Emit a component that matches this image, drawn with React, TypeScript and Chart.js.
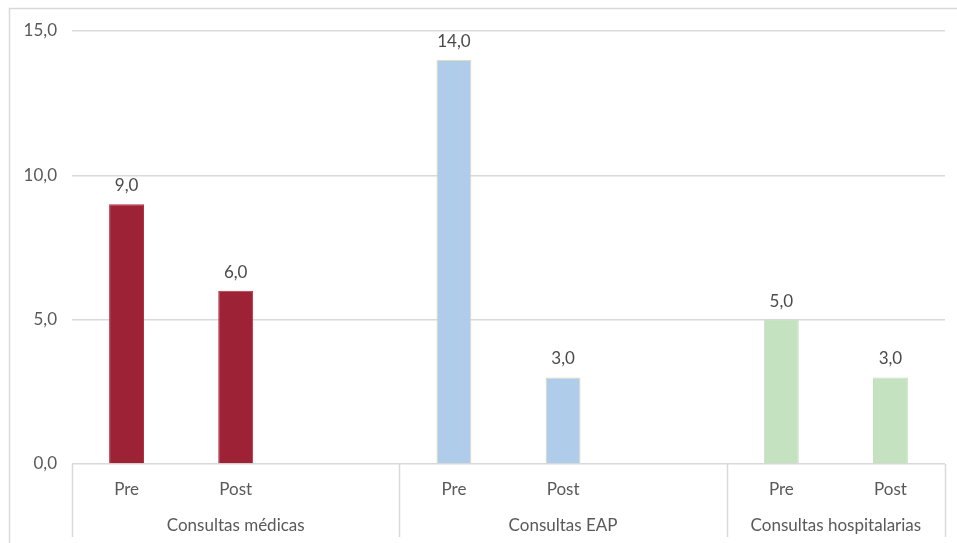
import React, { useEffect, useRef } from 'react';
import { Chart, registerables } from 'chart.js';
Chart.register(...registerables);

const periods = ['Pre', 'Post'];
const groups = ['Consultas médicas', 'Consultas EAP', 'Consultas hospitalarias'];
const medicas = [9.0, 6.0];
const eap = [14.0, 3.0];
const hospitalarias = [5.0, 3.0];
const yTicks = [0, 5, 10, 15];
const groupColors = ['#9E2236', '#AFCDEB', '#C4E1C0'];
const groupBorders = ['#B3303F', '#E6DBA6', '#C4E1C0'];

const series = [medicas, eap, hospitalarias];
const labels: string[] = [];
const values: (number | null)[] = [];
const colors: string[] = [];
const borders: string[] = [];
const groupIndex: number[] = [];
series.forEach((s, gi) => {
  s.forEach((v, pi) => {
    labels.push(periods[pi]);
    values.push(v);
    colors.push(groupColors[gi]);
    borders.push(groupBorders[gi]);
    groupIndex.push(gi);
  });
  if (gi < series.length - 1) {
    labels.push('');
    values.push(null);
    colors.push('rgba(0,0,0,0)');
    borders.push('rgba(0,0,0,0)');
    groupIndex.push(gi);
  }
});

const FONT = 'Lato, "Open Sans", sans-serif';
const SIZE = 17;
const fmt = (v: number) => v.toFixed(1).replace('.', ',');

const customPlugin = {
  id: 'customDecor',
  beforeDraw(chart: any) {
    const ctx = chart.ctx;
    ctx.save();
    ctx.strokeStyle = '#d9d9d9';
    ctx.lineWidth = 1.5;
    ctx.beginPath();
    ctx.moveTo(9.5, chart.height + 10);
    ctx.lineTo(9.5, 8.5);
    ctx.lineTo(chart.width + 10, 8.5);
    ctx.stroke();
    ctx.restore();
  },
  afterDraw(chart: any) {
    const ctx = chart.ctx;
    const xs = chart.scales.x;
    const meta = chart.getDatasetMeta(0);
    ctx.save();
    ctx.font = SIZE + 'px ' + FONT;
    ctx.textAlign = 'center';
    ctx.textBaseline = 'alphabetic';
    // data labels
    ctx.fillStyle = '#4a4a4a';
    meta.data.forEach((bar: any, i: number) => {
      const v = values[i];
      if (v == null) return;
      ctx.fillText(fmt(v), bar.x, bar.y - 13);
    });
    // category labels
    ctx.fillStyle = '#595959';
    labels.forEach((l, i) => {
      if (!l) return;
      ctx.fillText(l, xs.getPixelForValue(i), xs.top + 31);
    });
    // group separators and labels
    const slot = xs.getPixelForValue(1) - xs.getPixelForValue(0);
    ctx.strokeStyle = '#d9d9d9';
    ctx.lineWidth = 1.5;
    const bottom = xs.bottom - 6;
    groups.forEach((g, gi) => {
      const first = groupIndex.indexOf(gi);
      const last = groupIndex.lastIndexOf(gi);
      const left = xs.getPixelForValue(first) - slot / 2;
      const right = xs.getPixelForValue(last) + slot / 2;
      ctx.beginPath();
      ctx.moveTo(Math.round(left) + 0.5, xs.top);
      ctx.lineTo(Math.round(left) + 0.5, bottom);
      ctx.stroke();
      if (gi === groups.length - 1) {
        ctx.beginPath();
        ctx.moveTo(Math.round(right) + 0.5, xs.top);
        ctx.lineTo(Math.round(right) + 0.5, bottom);
        ctx.stroke();
      }
      ctx.fillText(g, (left + right) / 2, xs.top + 67);
    });
    ctx.restore();
  },
};

export default function App() {
  const ref = useRef<HTMLCanvasElement>(null);
  useEffect(() => {
    const chart = new Chart(ref.current as HTMLCanvasElement, {
      type: 'bar',
      data: {
        labels,
        datasets: [
          {
            data: values as any,
            backgroundColor: colors,
            borderColor: borders,
            borderWidth: 1,
            barPercentage: 0.32,
            categoryPercentage: 1,
          },
        ],
      },
      options: {
        responsive: false,
        animation: false,
        layout: { padding: { left: 0, right: 12, top: 31, bottom: 0 } },
        plugins: { legend: { display: false }, tooltip: { enabled: false } },
        scales: {
          x: {
            grid: { display: false, drawTicks: false },
            border: { display: false },
            ticks: { display: false },
            afterFit: (s: any) => {
              s.height = 79;
            },
          },
          y: {
            min: 0,
            max: 15,
            afterBuildTicks: (s: any) => {
              s.ticks = yTicks.map((v) => ({ value: v }));
            },
            grid: { color: '#d9d9d9', lineWidth: 1.5, drawTicks: false },
            border: { display: false },
            ticks: {
              padding: 15,
              color: '#595959',
              font: { family: FONT, size: SIZE },
              callback: (v: any) => fmt(Number(v)),
            },
            afterFit: (s: any) => {
              s.width = 72;
            },
          },
        },
      },
      plugins: [customPlugin],
    });
    return () => chart.destroy();
  }, []);
  return (
    <div style={{ position: 'fixed', left: 0, top: 0, width: 957, height: 543, background: '#fff' }}>
      <canvas ref={ref} width={957} height={543} style={{ display: 'block' }} />
    </div>
  );
}
